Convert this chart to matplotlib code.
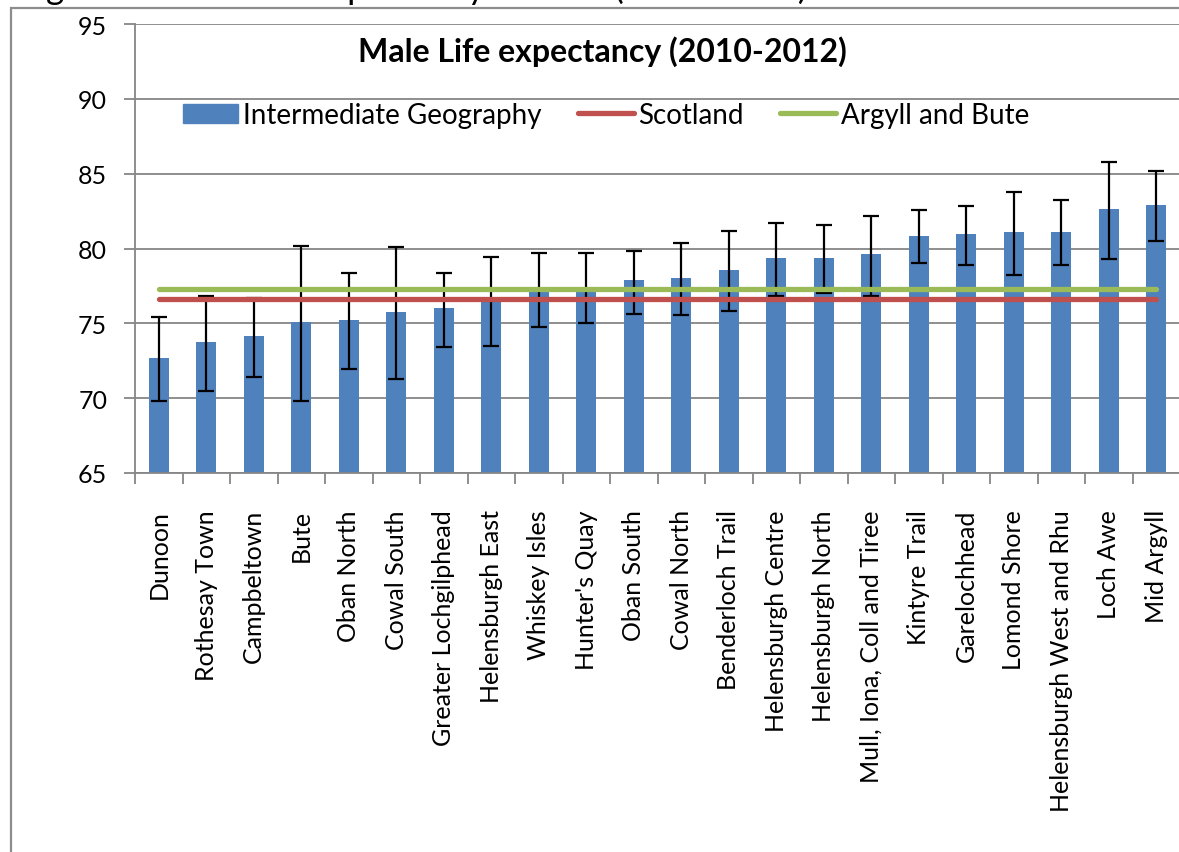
import matplotlib
matplotlib.use('Agg')
from matplotlib import pyplot as plt
from matplotlib.patches import Rectangle, Patch
from matplotlib.lines import Line2D
import numpy as np

plt.rcParams['font.family'] = ['Lato', 'DejaVu Sans']

areas = ['Dunoon', 'Rothesay Town', 'Campbeltown', 'Bute', 'Oban North',
         'Cowal South', 'Greater Lochgilphead', 'Helensburgh East', 'Whiskey Isles',
         "Hunter's Quay", 'Oban South', 'Cowal North', 'Benderloch Trail',
         'Helensburgh Centre', 'Helensburgh North', 'Mull, Iona, Coll and Tiree',
         'Kintyre Trail', 'Garelochhead', 'Lomond Shore', 'Helensburgh West and Rhu',
         'Loch Awe', 'Mid Argyll']
life_exp = [72.7, 73.75, 74.15, 75.1, 75.2, 75.75, 76.0, 76.5, 77.2, 77.4, 77.9,
            78.0, 78.55, 79.35, 79.35, 79.6, 80.85, 80.95, 81.1, 81.1, 82.65, 82.9]
ci_low = [69.8, 70.45, 71.4, 69.8, 71.95, 71.25, 73.4, 73.5, 74.75, 75.0, 75.65,
          75.55, 75.8, 76.85, 77.0, 76.85, 79.0, 78.9, 78.2, 78.9, 79.3, 80.5]
ci_high = [75.4, 76.8, 76.7, 80.2, 78.35, 80.1, 78.35, 79.4, 79.7, 79.7, 79.8,
           80.35, 81.15, 81.7, 81.55, 82.2, 82.6, 82.85, 83.8, 83.25, 85.8, 85.15]
scotland = 76.6
argyll_bute = 77.3
yticks = [65, 70, 75, 80, 85, 90, 95]

W, H = 1179, 853
fig = plt.figure(figsize=(W / 100, H / 100), dpi=100)

# outer chart border (cut by the screenshot on the right and bottom)
fig.patches.append(Rectangle((11 / W, -0.1), 1.2, 1.1 - 9 / H, transform=fig.transFigure,
                             fill=False, edgecolor='#8c8c8c', lw=1.6))
# caption above the chart, mostly cut off by the screenshot
fig.text(18 / W, 1 + 1 / H, 'Figure 4: Male Life expectancy at birth (2010-2012)',
         fontsize=25, ha='left', va='baseline', color='black')

ax = fig.add_axes([135 / W, 1 - 474 / H, 1 - 135 / W + 0.001, (474 - 25) / H])
x = np.arange(len(areas))
vals = np.array(life_exp)
err = [vals - np.array(ci_low), np.array(ci_high) - vals]

ax.bar(x, vals - 65, bottom=65, width=0.42, color='#4F81BD', zorder=2)
ax.errorbar(x, vals, yerr=err, fmt='none', ecolor='black', elinewidth=1.6,
            capsize=5.5, capthick=1.6, zorder=3)
ax.plot([x[0], x[-1]], [scotland, scotland], color='#C0504D', lw=3.8,
        solid_capstyle='round', zorder=4)
ax.plot([x[0], x[-1]], [argyll_bute, argyll_bute], color='#9BBB59', lw=3.8,
        solid_capstyle='round', zorder=4)

ax.set_xlim(-0.5, len(areas) - 0.5)
ax.set_ylim(65, 95)
ax.set_yticks(yticks)
ax.set_yticklabels([str(v) for v in yticks], fontsize=18)
ax.yaxis.grid(True, color='#868686', lw=1.3, zorder=0)
ax.set_axisbelow(True)
ax.tick_params(axis='y', direction='out', length=8, width=1.3, color='#868686', pad=12)

ax.set_xticks(x)
ax.set_xticklabels(areas, rotation=90, fontsize=18, va='top', ha='center')
ax.set_xticks(np.arange(-0.5, len(areas), 1), minor=True)
ax.tick_params(axis='x', which='major', length=0, pad=26)
ax.tick_params(axis='x', which='minor', direction='out', length=8, width=1.3, color='#868686')

for s in ['top', 'right']:
    ax.spines[s].set_visible(False)
for s in ['left', 'bottom']:
    ax.spines[s].set_color('#868686')
    ax.spines[s].set_linewidth(1.3)

fig.text(602 / W, 1 - 52 / H, 'Male Life expectancy (2010-2012)', fontsize=23,
         fontweight='bold', ha='center', va='center')

handles = [Patch(color='#4F81BD'),
           Line2D([], [], color='#C0504D', lw=3.8, solid_capstyle='round'),
           Line2D([], [], color='#9BBB59', lw=3.8, solid_capstyle='round')]
fig.legend(handles, ['Intermediate Geography', 'Scotland', 'Argyll and Bute'],
           loc='center', bbox_to_anchor=(606 / W, 1 - 116 / H), ncol=3, frameon=False,
           fontsize=20, handlelength=2.0, handletextpad=0.18, columnspacing=1.3)

fig.savefig('out.png', dpi=100)
